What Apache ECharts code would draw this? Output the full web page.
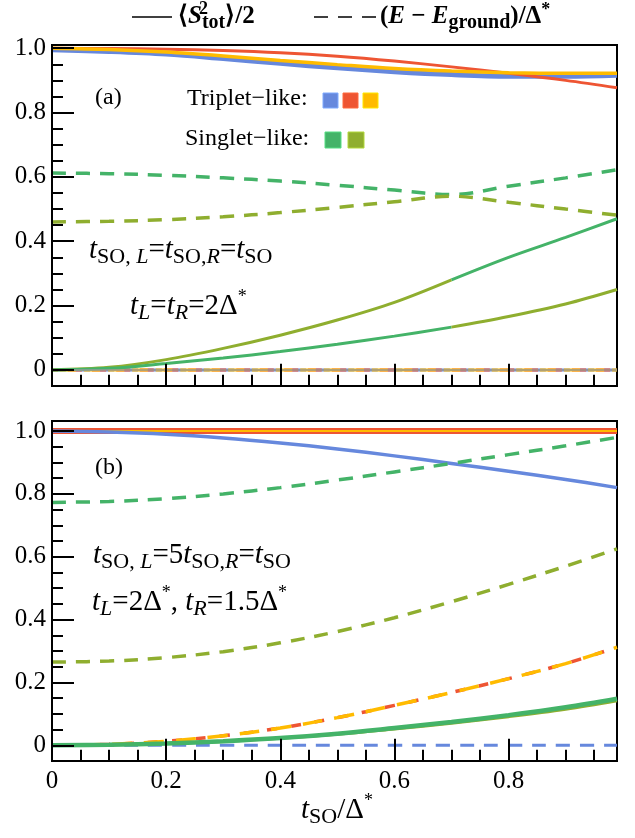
<!DOCTYPE html>
<html><head><meta charset="utf-8">
<script src="https://cdn.jsdelivr.net/npm/echarts@6/dist/echarts.min.js"></script>
<style>html,body{margin:0;padding:0;background:#fff}#c{width:635px;height:838px}</style>
</head><body><div id="c"></div>
<script>
// ---------- data ----------
const tValues = [0, 0.1, 0.2, 0.3, 0.4, 0.5, 0.6, 0.7, 0.8, 0.9, 0.99];
const swapIndexA = 7; // t = 0.7, where singlet characters swap in panel (a)

// panel (a): <S^2>/2
const blueSolidA   = [0.995, 0.99, 0.982, 0.968, 0.953, 0.939, 0.927, 0.918, 0.913, 0.913, 0.916];
const orangeSolidA = [1.0, 0.996, 0.988, 0.976, 0.962, 0.949, 0.937, 0.929, 0.924, 0.922, 0.922];
const redSolidA    = [1.0, 0.999, 0.997, 0.993, 0.986, 0.975, 0.96, 0.942, 0.922, 0.9, 0.877];
const upperSolidA  = [0, 0.008, 0.032, 0.067, 0.108, 0.155, 0.21, 0.28, 0.35, 0.412, 0.47];
const lowerSolidA  = [0, 0.005, 0.02, 0.037, 0.057, 0.08, 0.105, 0.133, 0.166, 0.205, 0.25];
// panel (a): (E-E0)/Delta
const greenDashA   = [0.612, 0.61, 0.605, 0.597, 0.587, 0.574, 0.559, 0.545, 0.571, 0.597, 0.622];
const oliveDashA   = [0.46, 0.462, 0.467, 0.476, 0.489, 0.505, 0.523, 0.54, 0.521, 0.5, 0.481];
const tripletDashA = [0, 0, 0, 0, 0, 0, 0, 0, 0, 0, 0];

// panel (b): <S^2>/2
const redSolidB    = [1, 1, 1, 1, 1, 1, 1, 1, 1, 1, 1];
const orangeSolidB = [1, 1, 1, 1, 1, 1, 1, 1, 1, 1, 1];
const blueSolidB   = [1.0, 0.997, 0.99, 0.978, 0.962, 0.943, 0.921, 0.897, 0.872, 0.846, 0.82];
const greenSolidB  = [0, 0.002, 0.006, 0.013, 0.023, 0.037, 0.055, 0.074, 0.096, 0.121, 0.148];
const oliveSolidB  = [0, 0.002, 0.006, 0.012, 0.022, 0.035, 0.052, 0.07, 0.091, 0.115, 0.142];
// panel (b): (E-E0)/Delta
const greenDashB   = [0.773, 0.776, 0.785, 0.8, 0.82, 0.844, 0.87, 0.897, 0.925, 0.953, 0.98];
const oliveDashB   = [0.265, 0.268, 0.279, 0.298, 0.326, 0.362, 0.406, 0.457, 0.512, 0.57, 0.625];
const redDashB     = [0, 0.003, 0.013, 0.03, 0.055, 0.088, 0.127, 0.168, 0.212, 0.26, 0.312];
const orangeDashB  = [0, 0.003, 0.013, 0.03, 0.055, 0.088, 0.127, 0.168, 0.212, 0.26, 0.312];
const blueDashB    = [0, 0, 0, 0, 0, 0, 0, 0, 0, 0, 0];

// ticks
const xMajorTicks = [0, 0.2, 0.4, 0.6, 0.8];
const xMinorTicks = [0.05, 0.1, 0.15, 0.25, 0.3, 0.35, 0.45, 0.5, 0.55, 0.65, 0.7, 0.75, 0.85, 0.9, 0.95];
const yMajorTicks = [0, 0.2, 0.4, 0.6, 0.8, 1.0];
const yMinorTicks = [0.05, 0.1, 0.15, 0.25, 0.3, 0.35, 0.45, 0.5, 0.55, 0.65, 0.7, 0.75, 0.85, 0.9, 0.95];

// ---------- styling ----------
const FONT = 'Liberation Serif';
const C = {blue: '#6688dd', red: '#ee5533', orange: '#ffbb00', green: '#44b368', olive: '#8fae2f'};

function pairs(vals) { return tValues.map((t, i) => [t, vals[i]]); }
function segment(vals, from, to) { return tValues.slice(from, to + 1).map((t, k) => [t, vals[from + k]]); }

function line(name, data, color, width, dashed, xi, yi, z, dashOffset) {
  return {
    name, type: 'line', data, xAxisIndex: xi, yAxisIndex: yi, smooth: 0.35,
    symbol: 'none', silent: true, z: z || 2, clip: true,
    lineStyle: {color, width, type: dashed ? dashed : 'solid', dashOffset: dashOffset || 0, cap: 'butt'}
  };
}
const DASH = [14, 10];
const last = tValues.length - 1;

const series = [
  // ---- panel (a) ----
  Object.assign(line('zeroA', pairs(tripletDashA), C.blue, 3, DASH, 0, 0, 2, 0), {
    markLine: {silent: true, symbol: 'none', label: {show: false},
      lineStyle: {color: '#999', width: 1.5, type: 'solid'}, data: [{yAxis: 0}]}
  }),
  line('redDashA', pairs(tripletDashA), C.red, 3, DASH, 0, 0, 3, 8),
  line('orangeDashA', pairs(tripletDashA), C.orange, 3, [16, 8], 0, 0, 4, 16),
  line('blueSolidA', pairs(blueSolidA), C.blue, 5, null, 0, 0, 3),
  line('redSolidA', pairs(redSolidA), C.red, 3, null, 0, 0, 4),
  line('orangeSolidA', pairs(orangeSolidA), C.orange, 3.5, null, 0, 0, 5),
  line('upperA1', segment(upperSolidA, 0, swapIndexA), C.olive, 3, null, 0, 0, 4),
  line('upperA2', segment(upperSolidA, swapIndexA, last), C.green, 3, null, 0, 0, 4),
  line('lowerA1', segment(lowerSolidA, 0, swapIndexA), C.green, 3, null, 0, 0, 4),
  line('lowerA2', segment(lowerSolidA, swapIndexA, last), C.olive, 3, null, 0, 0, 4),
  line('greenDashA', pairs(greenDashA), C.green, 3.5, DASH, 0, 0, 4),
  line('oliveDashA', pairs(oliveDashA), C.olive, 3.5, DASH, 0, 0, 4),
  // ---- panel (b) ----
  line('redSolidB', pairs(redSolidB), C.red, 6, null, 2, 2, 3),
  line('orangeSolidB', pairs(orangeSolidB), C.orange, 2, null, 2, 2, 4),
  line('blueSolidB', pairs(blueSolidB), C.blue, 3.5, null, 2, 2, 4),
  line('oliveSolidB', pairs(oliveSolidB), C.olive, 3, null, 2, 2, 4),
  line('greenSolidB', pairs(greenSolidB), C.green, 4.5, null, 2, 2, 5),
  line('blueDashB', pairs(blueDashB), C.blue, 3, DASH, 2, 2, 3),
  line('redDashB', pairs(redDashB), C.red, 3.5, [10, 14], 2, 2, 3),
  line('orangeDashB', pairs(orangeDashB), C.orange, 3.5, [20, 12], 2, 2, 4, 4),
  line('greenDashB', pairs(greenDashB), C.green, 3.5, DASH, 2, 2, 4),
  line('oliveDashB', pairs(oliveDashB), C.olive, 3.5, DASH, 2, 2, 4)
];

const tickLab = {fontFamily: FONT, fontSize: 25, color: '#000'};
function fmt(v) { return v === 0 ? '0' : (+v).toFixed(1); }
// x axes sit "on zero" of a hidden helper y-axis whose zero is the grid bottom
function xAxes(gridIndex, labels, helperY) {
  const al = {show: true, onZero: true, onZeroAxisIndex: helperY, lineStyle: {color: '#000', width: 2}};
  return [
    {type: 'value', gridIndex, position: 'bottom', min: 0, max: 0.99, z: 10, axisLine: al, splitLine: {show: false},
     axisTick: {show: true, inside: true, length: 22, lineStyle: {color: '#000', width: 2}, customValues: xMajorTicks},
     axisLabel: labels ? Object.assign({show: true, margin: 8, formatter: fmt, customValues: xMajorTicks}, tickLab) : {show: false}},
    {type: 'value', gridIndex, position: 'bottom', min: 0, max: 0.99, z: 10, axisLine: al, splitLine: {show: false},
     axisTick: {show: true, inside: true, length: 11, lineStyle: {color: '#000', width: 2}, customValues: xMinorTicks},
     axisLabel: {show: false}}
  ];
}
const yLine = {show: true, onZero: false, lineStyle: {color: '#000', width: 2}};
function yAxes(gridIndex, max) {
  return [
    {type: 'value', gridIndex, position: 'left', min: -0.05, max, z: 10, axisLine: yLine, splitLine: {show: false},
     axisTick: {show: true, inside: true, length: 22, lineStyle: {color: '#000', width: 2}, customValues: yMajorTicks},
     axisLabel: Object.assign({margin: 6, formatter: fmt, customValues: yMajorTicks}, tickLab)},
    {type: 'value', gridIndex, position: 'left', offset: 0, min: -0.05, max, z: 10, axisLine: yLine, splitLine: {show: false},
     axisTick: {show: true, inside: true, length: 11, lineStyle: {color: '#000', width: 2}, customValues: yMinorTicks},
     axisLabel: {show: false}}
  ];
}
function helperYAxis(gridIndex) {
  return {type: 'value', gridIndex, min: -0.0005, max: 1, show: false, axisLine: {show: false}, axisTick: {show: false},
    axisLabel: {show: false}, splitLine: {show: false}};
}

const rich = {
  m:  {fontFamily: FONT, fontSize: 24, color: '#000', lineHeight: 30},
  n:  {fontFamily: FONT, fontSize: 29, color: '#000', lineHeight: 36},
  i:  {fontFamily: FONT, fontSize: 29, fontStyle: 'italic', color: '#000', lineHeight: 36},
  s:  {fontFamily: FONT, fontSize: 22, color: '#000', verticalAlign: 'bottom', lineHeight: 24},
  si: {fontFamily: FONT, fontSize: 22, fontStyle: 'italic', color: '#000', verticalAlign: 'bottom', lineHeight: 24},
  p:  {fontFamily: FONT, fontSize: 18, color: '#000', verticalAlign: 'top', lineHeight: 18},
  b:  {fontFamily: FONT, fontSize: 25, fontWeight: 'bold', color: '#000', lineHeight: 32},
  bi: {fontFamily: FONT, fontSize: 25, fontWeight: 'bold', fontStyle: 'italic', color: '#000', lineHeight: 32},
  bs: {fontFamily: FONT, fontSize: 20, fontWeight: 'bold', color: '#000', verticalAlign: 'bottom', lineHeight: 22},
  bp: {fontFamily: FONT, fontSize: 18, fontWeight: 'bold', color: '#000', verticalAlign: 'top', lineHeight: 18}
};
function txt(x, y, text, align) {
  return {type: 'text', x, y, z: 20, silent: true,
    style: {text, rich, fontFamily: FONT, fontSize: 24, fill: '#000', align: align || 'left', verticalAlign: 'middle'}};
}
function sq(x, y, size, color) {
  return {type: 'rect', z: 20, silent: true, shape: {x, y, width: size, height: size},
    style: {fill: color, stroke: echarts.color.lift(color, -0.25), lineWidth: 1}};
}

const graphic = [
  // top legend
  {type: 'line', z: 20, silent: true, shape: {x1: 132, y1: 17, x2: 172, y2: 17}, style: {stroke: '#000', lineWidth: 1.5}},
  txt(178, 17, '{b|⟨}{bi|S}{bs|tot}{b|⟩/2}'),
  txt(199, 9, '{bp|2}'),
  {type: 'line', z: 20, silent: true, shape: {x1: 314, y1: 17, x2: 376, y2: 17}, style: {stroke: '#000', lineWidth: 1.5, lineDash: [14, 10]}},
  txt(380, 17, '{b|(}{bi|E}{b| − }{bi|E}{bs|ground}{b|)/Δ}{bp|*}'),
  // panel (a)
  txt(95, 98, '{m|(a)}'),
  txt(187, 99, '{m|Triplet−like:}'),
  sq(323, 93, 15, C.blue), sq(343, 93, 15, C.red), sq(363, 93, 15, C.orange),
  txt(185, 139, '{m|Singlet−like:}'),
  sq(325, 132, 16, C.green), sq(348, 132, 16, C.olive),
  txt(89, 250, '{i|t}{s|SO, }{si|L}{n|=}{i|t}{s|SO,}{si|R}{n|=}{i|t}{s|SO}'),
  txt(130, 306, '{i|t}{si|L}{n|=}{i|t}{si|R}{n|=2Δ}{p|*}'),
  // panel (b)
  txt(93, 555, '{i|t}{s|SO, }{si|L}{n|=5}{i|t}{s|SO,}{si|R}{n|=}{i|t}{s|SO}'),
  txt(92, 602, '{i|t}{si|L}{n|=2Δ}{p|*}{n|, }{i|t}{si|R}{n|=1.5Δ}{p|*}'),
  txt(95, 468, '{m|(b)}'),
  // x axis title
  txt(337, 810, '{i|t}{s|SO}{n|/Δ}{p|*}', 'center')
];

const chart = echarts.init(document.getElementById('c'), null, {renderer: 'canvas'});
chart.setOption({
  animation: false,
  backgroundColor: '#fff',
  grid: [
    {left: 52, right: 18, top: 45, height: 341, show: true, borderColor: '#000', borderWidth: 2, backgroundColor: 'transparent', z: 1},
    {left: 52, right: 18, top: 421, height: 340, show: true, borderColor: '#000', borderWidth: 2, backgroundColor: 'transparent', z: 1}
  ],
  xAxis: [...xAxes(0, false, 4), ...xAxes(1, true, 5)],
  yAxis: [...yAxes(0, 1.01), ...yAxes(1, 1.032), helperYAxis(0), helperYAxis(1)],
  series,
  graphic
});
</script>
</body></html>
